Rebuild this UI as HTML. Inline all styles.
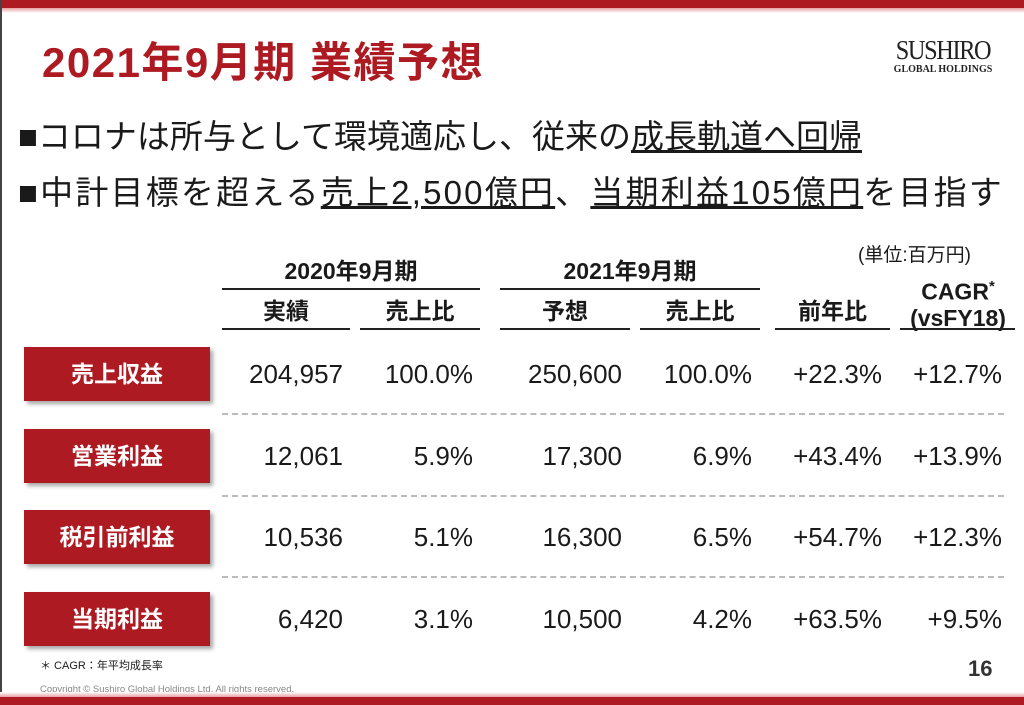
<!DOCTYPE html>
<html><head><meta charset="utf-8"><style>
body{margin:0;width:1024px;height:705px;position:relative;overflow:hidden;background:#fff;font-family:"Liberation Sans","Noto Sans CJK JP",sans-serif;color:#1a1a1a}
div,span{position:absolute}
.box{left:24px;width:186px;height:54px;background:#ad1a22;color:#fff;font-weight:bold;font-size:23px;line-height:54px;text-align:center;box-shadow:3px 3px 4px rgba(0,0,0,.35)}
.v{font-size:26px;text-align:right;line-height:30px}
.h{font-size:23px;font-weight:bold;text-align:center;line-height:28px}
.ul{height:0;border-top:2px solid #222}
.dash{left:222px;width:782px;border-top:2px dashed #bbb}
</style></head><body>
<div style="left:0;top:0;width:1024px;height:8px;background:#ad1a22"></div>
<div style="left:0;top:8px;width:1024px;height:5px;background:linear-gradient(#e8a0a3,#fff)"></div>
<div style="left:0;top:0;width:2px;height:705px;background:#444"></div>
<div style="left:42px;top:38px;font-size:42px;letter-spacing:1.5px;font-weight:bold;color:#ad1a22;line-height:50px">2021年9月期 業績予想</div>
<div style="left:878px;top:36px;width:130px;text-align:center;font-family:'Liberation Serif',serif;color:#222"><div style="position:static;font-size:27px;line-height:28px;letter-spacing:-1.5px;transform:scaleX(0.9)">SUSHIRO</div><div style="position:static;font-size:10px;line-height:12px;font-weight:bold">GLOBAL HOLDINGS</div></div>
<div style="left:18px;top:116px;font-size:33px;line-height:42px">■コロナは所与として環境適応し、従来の<u>成長軌道へ回帰</u></div>
<div style="left:18px;top:172px;font-size:33px;line-height:42px;letter-spacing:2.2px">■中計目標を超える<u>売上2,500億円</u>、<u>当期利益105億円</u>を目指す</div>
<div style="left:858px;top:240px;font-size:19px">(単位:百万円)</div>
<div class="h" style="left:222px;top:257px;width:258px">2020年9月期</div>
<div class="ul" style="left:222px;top:288px;width:258px"></div>
<div class="h" style="left:500px;top:257px;width:260px">2021年9月期</div>
<div class="ul" style="left:500px;top:288px;width:260px"></div>
<div class="h" style="left:222px;top:297px;width:128px">実績</div>
<div class="h" style="left:360px;top:297px;width:120px">売上比</div>
<div class="h" style="left:500px;top:297px;width:130px">予想</div>
<div class="h" style="left:640px;top:297px;width:120px">売上比</div>
<div class="h" style="left:775px;top:297px;width:115px">前年比</div>
<div class="h" style="left:896px;top:274px;width:124px;line-height:26px">CAGR<sup style="font-size:15px">*</sup><br>(vsFY18)</div>
<div class="ul" style="left:222px;top:328px;width:128px"></div>
<div class="ul" style="left:360px;top:328px;width:120px"></div>
<div class="ul" style="left:500px;top:328px;width:130px"></div>
<div class="ul" style="left:640px;top:328px;width:120px"></div>
<div class="ul" style="left:775px;top:328px;width:115px"></div>
<div class="ul" style="left:900px;top:328px;width:115px"></div>
<div id="rows"></div>
<div style="left:40px;top:657px;font-size:11px">＊ CAGR：年平均成長率</div>
<div style="left:40px;top:684px;font-size:9.5px;color:#888">Copyright © Sushiro Global Holdings Ltd. All rights reserved.</div>
<div style="left:968px;top:656px;font-size:22px;font-weight:bold;color:#333">16</div>
<div style="left:0;top:697px;width:1024px;height:8px;background:#ad1a22"></div>
<div style="left:0;top:692px;width:1024px;height:5px;background:linear-gradient(#fff,#e8a0a3)"></div>
<script>
const labels=["売上収益","営業利益","税引前利益","当期利益"];
const actual=["204,957","12,061","10,536","6,420"];
const ratio2020=["100.0%","5.9%","5.1%","3.1%"];
const forecast=["250,600","17,300","16,300","10,500"];
const ratio2021=["100.0%","6.9%","6.5%","4.2%"];
const yoy=["+22.3%","+43.4%","+54.7%","+63.5%"];
const cagr=["+12.7%","+13.9%","+12.3%","+9.5%"];
const cols=[[actual,343,'actual'],[ratio2020,473,'ratio-2020'],[forecast,622,'forecast'],[ratio2021,752,'ratio-2021'],[yoy,882,'yoy'],[cagr,1002,'cagr']];
const root=document.getElementById('rows');
labels.forEach((l,i)=>{
 const cy=374+i*81.5;
 const b=document.createElement('div');b.className='box';b.style.top=(cy-27)+'px';b.textContent=l;
 
 
 root.appendChild(b);
 cols.forEach(([arr,r,n])=>{
  const d=document.createElement('div');d.className='v';d.style.left=(r-160)+'px';d.style.width='160px';d.style.top=(cy-15)+'px';d.textContent=arr[i];
  
  
  root.appendChild(d);
 });
 if(i<3){const s=document.createElement('div');s.className='dash';s.style.top=(cy+39)+'px';
  
  
  root.appendChild(s);}
});
</script>
</body></html>
